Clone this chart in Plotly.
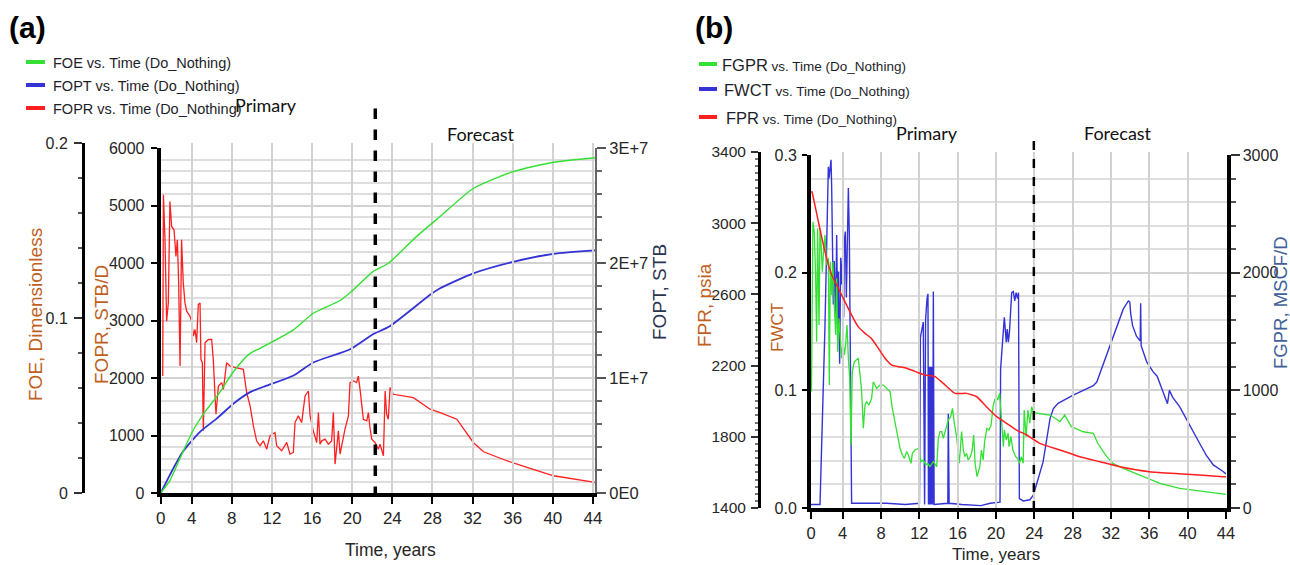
import plotly.graph_objects as go

W, H = 1290, 565

# ---------------- Panel (a): field oil production, Do_Nothing case ----------------
# FOE, dimensionless (green)
foe_t = [0.91, 1.85, 3.13, 4.16, 5.34, 6.49, 8.29, 9.82, 10.81, 14.1, 16.12, 18.79, 20.1,
         22.07, 23.6, 26.4, 28.76, 32.07, 36.04, 40.07, 44.2]
foe_v = [0.0, 0.0074, 0.0236, 0.036, 0.0465, 0.055, 0.0703, 0.0798, 0.0827, 0.0931, 0.1027,
         0.110, 0.116, 0.1265, 0.1313, 0.1465, 0.158, 0.174, 0.1836, 0.189, 0.1916]

# FOPT, STB (blue)
fopt_t = [0.91, 1.83, 3.13, 4.83, 6.49, 8.15, 9.82, 11.48, 14.1, 16.12, 19.8, 22.07, 23.74,
          27.77, 28.76, 32.07, 36.04, 40.07, 44.2]
fopt_v = [0.0, 1.58e6, 3.6e6, 5.32e6, 6.47e6, 7.76e6, 8.77e6, 9.34e6, 1.02e7, 1.135e7, 1.25e7,
          1.38e7, 1.45e7, 1.724e7, 1.78e7, 1.91e7, 2.01e7, 2.08e7, 2.11e7]

# FOPR, STB/D (red)
fopr_t = [1.11, 1.18, 1.34, 1.5, 1.67, 1.83, 2.0, 2.24, 2.43, 2.57, 2.7, 2.84, 2.99, 3.16, 3.33,
          3.5, 3.83, 4.0, 4.17, 4.33, 4.49, 4.66, 4.83, 4.92, 5.06, 5.16, 5.33, 5.66, 5.99, 6.15,
          6.42, 6.66, 6.99, 7.16, 7.48, 7.82, 8.39, 9.15, 9.48, 9.82, 10.15, 10.47, 10.81, 11.14,
          11.48, 11.8, 12.3, 12.47, 12.97, 13.47, 13.8, 14.13, 14.3, 14.63, 14.96, 15.3, 15.63,
          15.8, 16.12, 16.46, 16.63, 16.79, 16.96, 17.29, 17.62, 17.95, 18.12, 18.29, 18.62,
          18.79, 19.28, 19.62, 19.78, 20.12, 20.44, 20.61, 20.78, 21.11, 21.45, 21.61, 21.77,
          21.94, 22.27, 22.61, 22.77, 23.11, 23.28, 23.43, 23.6, 23.77, 24.1, 26.1, 27.76, 28.76,
          30.43, 32.07, 33.09, 35.4, 37.42, 40.07, 44.2]
fopr_v = [2034, 5185, 4404, 2988, 3306, 5069, 4636, 4578, 4115, 4404, 3653, 2208, 4404, 3653,
          3306, 3162, 3075, 2988, 2728, 2844, 2613, 3277, 3306, 2324, 2266, 1081, 2613, 2670,
          2670, 2324, 1370, 1861, 1919, 1803, 2266, 2208, 2179, 2150, 1746, 1514, 1167, 907, 821,
          907, 763, 994, 1052, 821, 734, 879, 676, 705, 1225, 1341, 1225, 1688, 1774, 1341, 1081,
          879, 1399, 850, 907, 936, 850, 907, 1399, 503, 1081, 676, 1110, 1341, 1919, 1948, 1919,
          2034, 1803, 1283, 1254, 1399, 1139, 936, 879, 763, 850, 647, 1774, 1370, 1283, 1832,
          1717, 1659, 1457, 1399, 1283, 879, 717, 561, 445, 300, 185]

# ---------------- Panel (b): field gas rate, water cut and pressure ----------------
# FPR, psia (red)
fpr_t = [0.74, 0.83, 1.46, 2.15, 2.85, 3.55, 4.23, 4.93, 5.61, 6.33, 6.99, 7.72, 8.42, 9.11,
         9.81, 10.5, 11.19, 11.89, 12.59, 13.64, 14.5, 15.72, 16.93, 17.99, 19.0, 20.08, 21.12,
         22.15, 23.2, 24.59, 26.68, 28.75, 30.85, 32.94, 36.03, 39.55, 43.71, 44.0]
fpr_v = [3180, 3168, 3008, 2840, 2709, 2634, 2559, 2484, 2419, 2381, 2353, 2297, 2241, 2203,
         2194, 2188, 2175, 2160, 2147, 2138, 2100, 2044, 2044, 2025, 1969, 1913, 1876, 1838,
         1810, 1763, 1726, 1688, 1660, 1632, 1604, 1591, 1576, 1575]

# FWCT, fraction (blue)
fwct_t = [0.69, 1.63, 2.15, 2.5, 2.57, 2.67, 2.78, 2.85, 2.92, 3.02, 3.12, 3.27, 3.37, 3.48,
          3.55, 3.68, 3.79, 3.89, 4.0, 4.1, 4.17, 4.27, 4.38, 4.48, 4.59, 4.69, 4.76, 4.83, 4.93,
          6.6, 8.57, 10.54, 12.01, 12.11, 12.26, 12.41, 12.55, 12.65, 12.8, 12.9, 12.95, 13.05,
          13.1, 13.19, 13.24, 13.34, 13.39, 13.46, 13.54, 14.97, 15.02, 15.11, 16.44, 18.41,
          19.4, 20.42, 20.48, 20.76, 20.87, 21.07, 21.17, 21.29, 21.41, 21.64, 21.81, 21.96,
          22.1, 22.25, 22.35, 22.44, 22.84, 23.53, 23.73, 23.9, 24.91, 25.64, 25.99, 26.48,
          28.06, 30.16, 30.52, 31.9, 33.28, 33.81, 33.97, 34.06, 34.26, 34.66, 35.05, 35.1,
          35.15, 35.74, 36.43, 36.82, 37.47, 37.9, 38.1, 38.45, 39.18, 39.87, 40.56, 41.25,
          41.94, 42.68, 43.71, 44.0]
fwct_v = [0.003, 0.003, 0.155, 0.29, 0.28, 0.2916, 0.296, 0.272, 0.2296, 0.173, 0.21, 0.159,
          0.232, 0.148, 0.201, 0.1225, 0.2127, 0.19, 0.2155, 0.162, 0.227, 0.235, 0.179, 0.23,
          0.272, 0.232, 0.1676, 0.055, 0.004, 0.004, 0.004, 0.003, 0.004, 0.145, 0.152, 0.158,
          0.003, 0.16, 0.178, 0.182, 0.003, 0.12, 0.003, 0.12, 0.003, 0.12, 0.003, 0.184, 0.003,
          0.004, 0.08, 0.004, 0.003, 0.002, 0.004, 0.005, 0.118, 0.146, 0.162, 0.141, 0.152,
          0.141, 0.15, 0.183, 0.184, 0.176, 0.183, 0.178, 0.183, 0.008, 0.006, 0.007, 0.009,
          0.011, 0.039, 0.076, 0.0845, 0.089, 0.096, 0.104, 0.107, 0.138, 0.169, 0.176, 0.175,
          0.165, 0.155, 0.146, 0.142, 0.174, 0.138, 0.124, 0.1155, 0.112, 0.0986, 0.0887, 0.1,
          0.094, 0.0859, 0.076, 0.066, 0.055, 0.045, 0.0366, 0.031, 0.029]

# FGPR, MSCF/D (green)
fgpr_t = [0.74, 0.89, 1.03, 1.17, 1.28, 1.38, 1.53, 1.63, 1.73, 1.87, 1.98, 2.15, 2.32, 2.5,
          2.6, 2.71, 2.85, 2.98, 3.12, 3.27, 3.37, 3.48, 3.61, 3.75, 3.89, 4.03, 4.17, 4.3, 4.45,
          4.59, 4.73, 4.86, 5.0, 5.21, 5.46, 5.63, 5.81, 5.98, 6.15, 6.33, 6.5, 6.74, 7.02, 7.19,
          7.37, 7.54, 7.72, 7.88, 8.24, 8.57, 8.94, 9.18, 9.38, 9.53, 9.74, 9.98, 10.23, 10.44,
          10.67, 10.85, 11.13, 11.27, 11.55, 11.89, 12.18, 12.41, 12.66, 12.87, 13.11, 13.46,
          13.81, 13.98, 14.16, 14.33, 14.5, 15.02, 15.26, 15.46, 15.65, 15.89, 16.17, 16.41,
          16.59, 16.74, 16.93, 17.1, 17.33, 17.52, 17.67, 17.82, 18.02, 18.31, 18.48, 18.66,
          18.81, 19.05, 19.26, 19.49, 19.69, 19.86, 20.04, 20.18, 20.38, 20.58, 20.77, 20.87,
          21.07, 21.27, 21.36, 21.56, 21.76, 22.05, 22.25, 22.45, 22.64, 22.84, 22.94, 23.14,
          23.33, 23.53, 23.73, 23.92, 25.64, 26.68, 27.17, 27.86, 29.11, 30.16, 30.62, 31.55,
          32.19, 33.28, 35.05, 37.12, 39.18, 41.25, 43.71, 44.0]
fgpr_v = [990, 2433, 2348, 1980, 1414, 2377, 1555, 2377, 2263, 2009, 2150, 2320, 2065, 2122,
          1045, 2093, 1810, 2093, 1725, 1470, 1952, 1329, 1612, 1385, 1272, 1414, 1300, 1385,
          1555, 1272, 1102, 535, 1158, 1243, 1258, 1272, 1130, 989, 677, 875, 903, 875, 932,
          1073, 1045, 1017, 1031, 1045, 1045, 1017, 989, 847, 762, 705, 592, 507, 450, 422, 479,
          450, 380, 465, 493, 507, 394, 408, 365, 380, 351, 394, 351, 592, 649, 649, 592, 748,
          776, 847, 720, 606, 380, 649, 493, 436, 465, 408, 436, 493, 620, 380, 266, 351, 493,
          408, 564, 677, 663, 705, 861, 918, 946, 918, 975, 748, 521, 663, 578, 635, 521, 606,
          493, 436, 422, 380, 436, 380, 833, 606, 833, 720, 861, 810, 790, 734, 790, 691, 648,
          635, 550, 436, 380, 337, 280, 210, 167, 147, 119, 115]

year_ticks = [0, 4, 8, 12, 16, 20, 24, 28, 32, 36, 40, 44]
year_labels = [str(y) for y in year_ticks]

# time axis extents (years) and the end of the history-matched period
A_START, A_END, A_SPLIT = 0.91, 44.2, 22.3
B_START, B_END, B_SPLIT = 0.69, 44.06, 23.95


def px_x(px):
    return px / W


def px_y(py):
    return 1 - py / H


SANS = "Liberation Sans, Arial"
TICK_COLOR = "#262626"
ORANGE = "#c0601f"
STEEL = "#41609a"
NAVY = "#2b3550"

RED, GREEN, BLUE = "#ff1f1f", "#33e033", "#3434d6"


def tickfont(size=15):
    return dict(family=SANS, size=size, color=TICK_COLOR)


fig = go.Figure()

# ---- (a) traces ----
fig.add_trace(go.Scatter(x=foe_t, y=foe_v, xaxis="x", yaxis="y2", mode="lines",
                         line=dict(color=GREEN, width=1.4, shape="spline", smoothing=0.6),
                         name="FOE"))
fig.add_trace(go.Scatter(x=fopt_t, y=fopt_v, xaxis="x", yaxis="y3", mode="lines",
                         line=dict(color=BLUE, width=1.8, shape="spline", smoothing=0.6),
                         name="FOPT"))
fig.add_trace(go.Scatter(x=fopr_t, y=fopr_v, xaxis="x", yaxis="y", mode="lines",
                         line=dict(color=RED, width=1.3), name="FOPR"))

# ---- (b) traces ----
fig.add_trace(go.Scatter(x=fpr_t, y=fpr_v, xaxis="x2", yaxis="y5", mode="lines",
                         line=dict(color=RED, width=1.5, shape="spline", smoothing=0.5),
                         name="FPR"))
fig.add_trace(go.Scatter(x=fgpr_t, y=fgpr_v, xaxis="x2", yaxis="y6", mode="lines",
                         line=dict(color=GREEN, width=1.3), name="FGPR"))
fig.add_trace(go.Scatter(x=fwct_t, y=fwct_v, xaxis="x2", yaxis="y4", mode="lines",
                         line=dict(color=BLUE, width=1.4), name="FWCT"))

GRID = "#d2d2d2"
GRID_MINOR = "#dedede"

common_x = dict(ticks="outside", ticklen=7, tickwidth=1.5, tickcolor="black",
                showline=True, linewidth=4, linecolor="black", showgrid=True,
                gridcolor=GRID, gridwidth=2, zeroline=False)

fig.update_layout(
    width=W, height=H, template="none",
    margin=dict(l=0, r=0, t=0, b=0),
    paper_bgcolor="white", plot_bgcolor="rgba(0,0,0,0)",
    showlegend=False,
    # ----- panel (a) -----
    xaxis=dict(domain=[px_x(160.7), px_x(595)], range=[A_START, A_END], anchor="y",
               tickvals=[A_START] + year_ticks[1:], ticktext=year_labels,
               tickfont=tickfont(17), **common_x),
    yaxis=dict(domain=[px_y(493), px_y(148)], range=[0, 6000], anchor="x",
               tickvals=[0, 1000, 2000, 3000, 4000, 5000, 6000], tickfont=tickfont(16),
               ticks="outside", ticklen=6, tickwidth=1.5, tickcolor="black",
               ticklabelstandoff=3,
               showline=True, linewidth=4, linecolor="black",
               showgrid=True, gridcolor=GRID, gridwidth=2, zeroline=False,
               minor=dict(dtick=200, showgrid=True, gridcolor=GRID_MINOR, gridwidth=1.5)),
    yaxis2=dict(domain=[px_y(493), px_y(143)], range=[0, 0.2], anchor="free",
                position=px_x(83), side="left",
                tickvals=[0, 0.1, 0.2], ticktext=["0", "0.1", "0.2"], tickfont=tickfont(16),
                ticks="outside", ticklen=8, tickwidth=1.5, tickcolor="#333",
                ticklabelstandoff=3,
                minor=dict(dtick=0.02, ticks="outside", ticklen=4, tickcolor="#555"),
                showline=True, linewidth=3, linecolor="black", showgrid=False, zeroline=False),
    yaxis3=dict(overlaying="y", anchor="x", side="right", range=[0, 3e7],
                tickvals=[0, 1e7, 2e7, 3e7], ticktext=["0E0", "1E+7", "2E+7", "3E+7"],
                tickfont=tickfont(16.5), ticks="outside", ticklen=9, tickwidth=1.5,
                tickcolor="#555", ticklabelstandoff=0,
                minor=dict(dtick=2e6, ticks="outside", ticklen=5, tickcolor="#666"),
                showline=True, linewidth=2, linecolor="#666", showgrid=False, zeroline=False),
    # ----- panel (b) -----
    xaxis2=dict(domain=[px_x(811), px_x(1226.5)], range=[B_START, B_END], anchor="y4",
                tickvals=[B_START] + year_ticks[1:], ticktext=year_labels,
                tickfont=tickfont(16.5), **common_x),
    yaxis4=dict(domain=[px_y(508), px_y(155)], range=[0, 0.3], anchor="x2",
                tickvals=[0, 0.1, 0.2, 0.3], ticktext=["0.0", "0.1", "0.2", "0.3"],
                tickfont=tickfont(16), ticks="outside", ticklen=5, tickwidth=1.5,
                tickcolor="black", showline=True, linewidth=4, linecolor="black",
                ticklabelstandoff=2,
                showgrid=True, gridcolor=GRID, gridwidth=2, zeroline=False,
                minor=dict(dtick=0.02, showgrid=True, gridcolor=GRID_MINOR, gridwidth=1.5)),
    yaxis5=dict(domain=[px_y(508), px_y(152)], range=[1400, 3400], anchor="free",
                position=px_x(759), side="left",
                tickvals=[1400, 1800, 2200, 2600, 3000, 3400], tickfont=tickfont(15.5),
                ticks="outside", ticklen=7, tickwidth=1.5, tickcolor="#333",
                ticklabelstandoff=2,
                minor=dict(dtick=40, ticks="outside", ticklen=3, tickcolor="#777"),
                showline=True, linewidth=3, linecolor="black", showgrid=False, zeroline=False),
    yaxis6=dict(overlaying="y4", anchor="x2", side="right", range=[0, 3000],
                tickvals=[0, 1000, 2000, 3000], tickfont=tickfont(16),
                ticks="outside", ticklen=9, tickwidth=1.5, tickcolor="#333",
                ticklabelstandoff=0,
                minor=dict(dtick=200, ticks="outside", ticklen=5, tickcolor="#555"),
                showline=True, linewidth=4, linecolor="black", showgrid=False, zeroline=False),
)

# split between history and forecast
fig.add_shape(type="line", xref="x", yref="paper", x0=A_SPLIT, x1=A_SPLIT,
              y0=px_y(497), y1=px_y(102), line=dict(color="black", width=3.5, dash="dash"))
fig.add_shape(type="line", xref="x2", yref="paper", x0=B_SPLIT, x1=B_SPLIT,
              y0=px_y(510), y1=px_y(132), line=dict(color="black", width=2.5, dash="dash"))


def note(text, x, y, size, family=SANS, color="#222", angle=0, anchor="center", bold=False):
    if bold:
        text = "<b>" + text + "</b>"
    fig.add_annotation(text=text, xref="paper", yref="paper", x=px_x(x), y=px_y(y),
                       xanchor=anchor, yanchor="middle", showarrow=False, textangle=angle,
                       font=dict(family=family, size=size, color=color))


# panel labels
note("(a)", 7, 28, 30, color="black", anchor="left", bold=True)
note("(b)", 693, 28, 30, color="black", anchor="left", bold=True)

# period labels
note("Primary", 266, 105, 18, family="Lato", color="#111")
note("Forecast", 481, 134, 18, family="Lato", color="#111")
note("Primary", 927, 133, 18, family="Lato", color="#111")
note("Forecast", 1118, 133, 18, family="Lato", color="#111")

# axis titles
note("FOE, Dimensionless", 35, 315, 19, color=ORANGE, angle=-90)
note("FOPR, STB/D", 101, 325, 19, color=ORANGE, angle=-90)
note("FOPT, STB", 659, 292, 19, color=NAVY, angle=-90)
note("Time, years", 390, 550, 17.5, color=TICK_COLOR)
note("FPR, psia", 704, 305, 19, color=ORANGE, angle=-90)
note("FWCT", 777, 328, 17, color=ORANGE, angle=-90)
note("FGPR, MSCF/D", 1280, 303, 18.5, color=STEEL, angle=-90)
note("Time, years", 996, 554, 17, color=TICK_COLOR)

# legends
legend_a = [("FOE vs. Time (Do_Nothing)", GREEN, 62),
            ("FOPT vs. Time (Do_Nothing)", BLUE, 85),
            ("FOPR vs. Time (Do_Nothing)", RED, 108)]
for label, color, y in legend_a:
    fig.add_shape(type="line", xref="paper", yref="paper", x0=px_x(26), x1=px_x(45),
                  y0=px_y(y), y1=px_y(y), line=dict(color=color, width=4))
    note(label, 51, y + 1, 14.5, color="#1e1e2a", anchor="left")

legend_b = [("FGPR", GREEN, 64, 720), ("FWCT", BLUE, 89, 722), ("FPR", RED, 117, 724)]
for name, color, y, x in legend_b:
    fig.add_shape(type="line", xref="paper", yref="paper", x0=px_x(699), x1=px_x(717),
                  y0=px_y(y), y1=px_y(y), line=dict(color=color, width=4))
    note("<span style='font-size:16.5px'>" + name + "</span> vs. Time (Do_Nothing)",
         x, y + 1, 13.5, color="#1e1e2a", anchor="left")

fig.write_html("out.html")
